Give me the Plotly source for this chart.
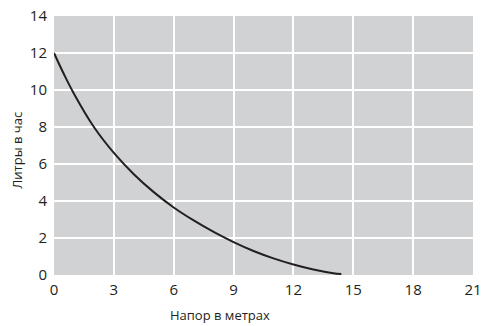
import plotly.graph_objects as go

# head in metres vs litres per hour
head_m = [0, 0.5, 1, 2, 3, 4, 5, 6, 7, 8, 9, 10, 11, 12, 13, 14, 14.4]
litres_h = [12, 10.85, 9.8, 8.0, 6.6, 5.45, 4.48, 3.65, 2.95, 2.33, 1.78, 1.3, 0.9, 0.57, 0.3, 0.1, 0.05]

x_ticks = [0, 3, 6, 9, 12, 15, 18, 21]
y_ticks = [0, 2, 4, 6, 8, 10, 12, 14]

x_title = "Напор в метрах"
y_title = "Литры в час"

ink = "#231f20"

fig = go.Figure()
fig.add_trace(go.Scatter(x=head_m, y=litres_h, mode="lines", line_shape="spline",
                         line=dict(color=ink, width=2), hoverinfo="skip"))

fig.update_xaxes(range=[0, 21], tickvals=x_ticks, showgrid=True, gridcolor="white", gridwidth=2,
                 zeroline=False, showline=False, ticks="", ticklabelstandoff=4, automargin=False,
                 tickfont=dict(size=15, color=ink))
fig.update_yaxes(range=[0, 14], tickvals=y_ticks, showgrid=True, gridcolor="white", gridwidth=2,
                 zeroline=False, showline=False, ticks="", ticklabelstandoff=6, automargin=False,
                 tickfont=dict(size=15, color=ink))

# axis titles placed as annotations (x title sits left of plot centre in the original)
fig.add_annotation(text=x_title, xref="paper", yref="paper", x=0.396, y=-0.154,
                   xanchor="center", yanchor="middle",
                   showarrow=False, font=dict(size=13, color=ink))
fig.add_annotation(text=y_title, xref="paper", yref="paper", x=-0.088, y=0.48, textangle=-90,
                   xanchor="center", yanchor="middle",
                   showarrow=False, font=dict(size=13, color=ink))

fig.update_layout(width=482, height=326, margin=dict(l=54, r=9, t=16, b=51),
                  plot_bgcolor="#d1d2d4", paper_bgcolor="white", showlegend=False,
                  font=dict(family="Open Sans, sans-serif", color=ink))

# the page's default body margin would shift the chart, so drop it
fig.write_html("out.html", config={"displayModeBar": False},
               post_script="document.body.style.margin='0';")
